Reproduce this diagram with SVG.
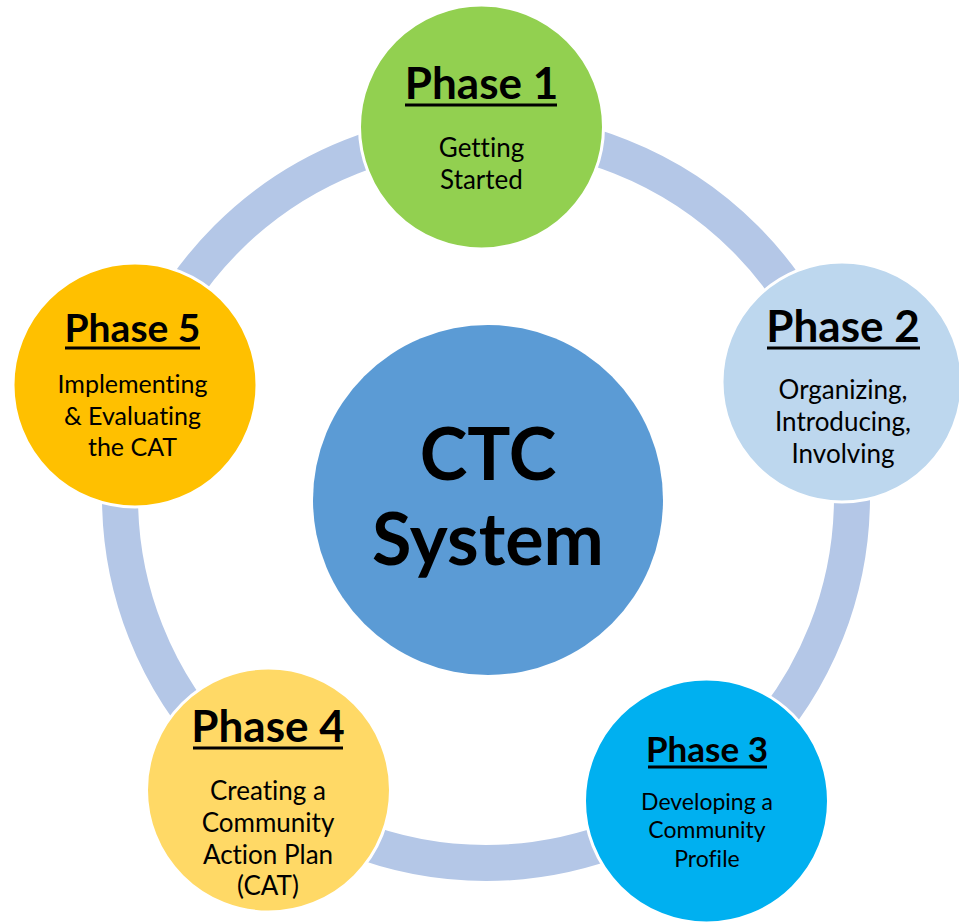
<svg xmlns="http://www.w3.org/2000/svg" width="959" height="922" viewBox="0 0 959 922">
<style>
.node{stroke:#FFFFFF;stroke-width:3}
.h{font-family:Lato,"Open Sans",sans-serif;font-weight:bold;fill:#000;text-anchor:middle;font-variant-ligatures:none}
.b{font-family:Lato,"Open Sans",sans-serif;fill:#000;text-anchor:middle;font-variant-ligatures:none}
.ul{stroke:#000;stroke-width:3}
</style>
<rect width="959" height="922" fill="#FFFFFF"/>
<g id="connectors">
<circle cx="486" cy="497" r="366" fill="none" stroke="#B4C7E7" stroke-width="36"/>
</g>
<g id="center">
<circle cx="488" cy="500" r="175" fill="#5B9BD5"/>
<text class="h" x="488" y="480" font-size="72">CTC</text>
<text class="h" x="488" y="565" font-size="72">System</text>
</g>
<g id="phase1">
<circle class="node" cx="481.5" cy="127" r="122" fill="#92D050"/>
<text class="h" x="481.5" y="99" font-size="44">Phase 1</text>
<line class="ul" x1="405" y1="105" x2="557" y2="105"/>
<text class="b" x="481.5" y="157" font-size="26">Getting</text>
<text class="b" x="481.5" y="189" font-size="26">Started</text>
</g>
<g id="phase2">
<circle class="node" cx="842" cy="382" r="120" fill="#BDD7EE"/>
<text class="h" x="843" y="342" font-size="44">Phase 2</text>
<line class="ul" x1="767" y1="348" x2="920" y2="348"/>
<text class="b" x="843" y="399" font-size="26">Organizing,</text>
<text class="b" x="843" y="431" font-size="26">Introducing,</text>
<text class="b" x="843" y="463" font-size="26">Involving</text>
</g>
<g id="phase3">
<circle class="node" cx="706.5" cy="801" r="122" fill="#00B0F0"/>
<text class="h" x="707" y="762" font-size="35">Phase 3</text>
<line class="ul" x1="648" y1="767" x2="767" y2="767"/>
<text class="b" x="707" y="810" font-size="23">Developing a</text>
<text class="b" x="707" y="838" font-size="23">Community</text>
<text class="b" x="707" y="867" font-size="23">Profile</text>
</g>
<g id="phase4">
<circle class="node" cx="268.5" cy="790" r="122" fill="#FFD966"/>
<text class="h" x="268" y="742" font-size="44">Phase 4</text>
<line class="ul" x1="193" y1="748" x2="343" y2="748"/>
<text class="b" x="268" y="800" font-size="26">Creating a</text>
<text class="b" x="268" y="832" font-size="26">Community</text>
<text class="b" x="268" y="864" font-size="26">Action Plan</text>
<text class="b" x="268" y="895" font-size="26">(CAT)</text>
</g>
<g id="phase5">
<circle class="node" cx="135" cy="385" r="122" fill="#FFC000"/>
<text class="h" x="132.5" y="342" font-size="39">Phase 5</text>
<line class="ul" x1="65" y1="348" x2="200" y2="348"/>
<text class="b" x="132.5" y="393" font-size="25">Implementing</text>
<text class="b" x="132.5" y="425" font-size="25">&amp; Evaluating</text>
<text class="b" x="132.5" y="456" font-size="25">the CAT</text>
</g>
</svg>
